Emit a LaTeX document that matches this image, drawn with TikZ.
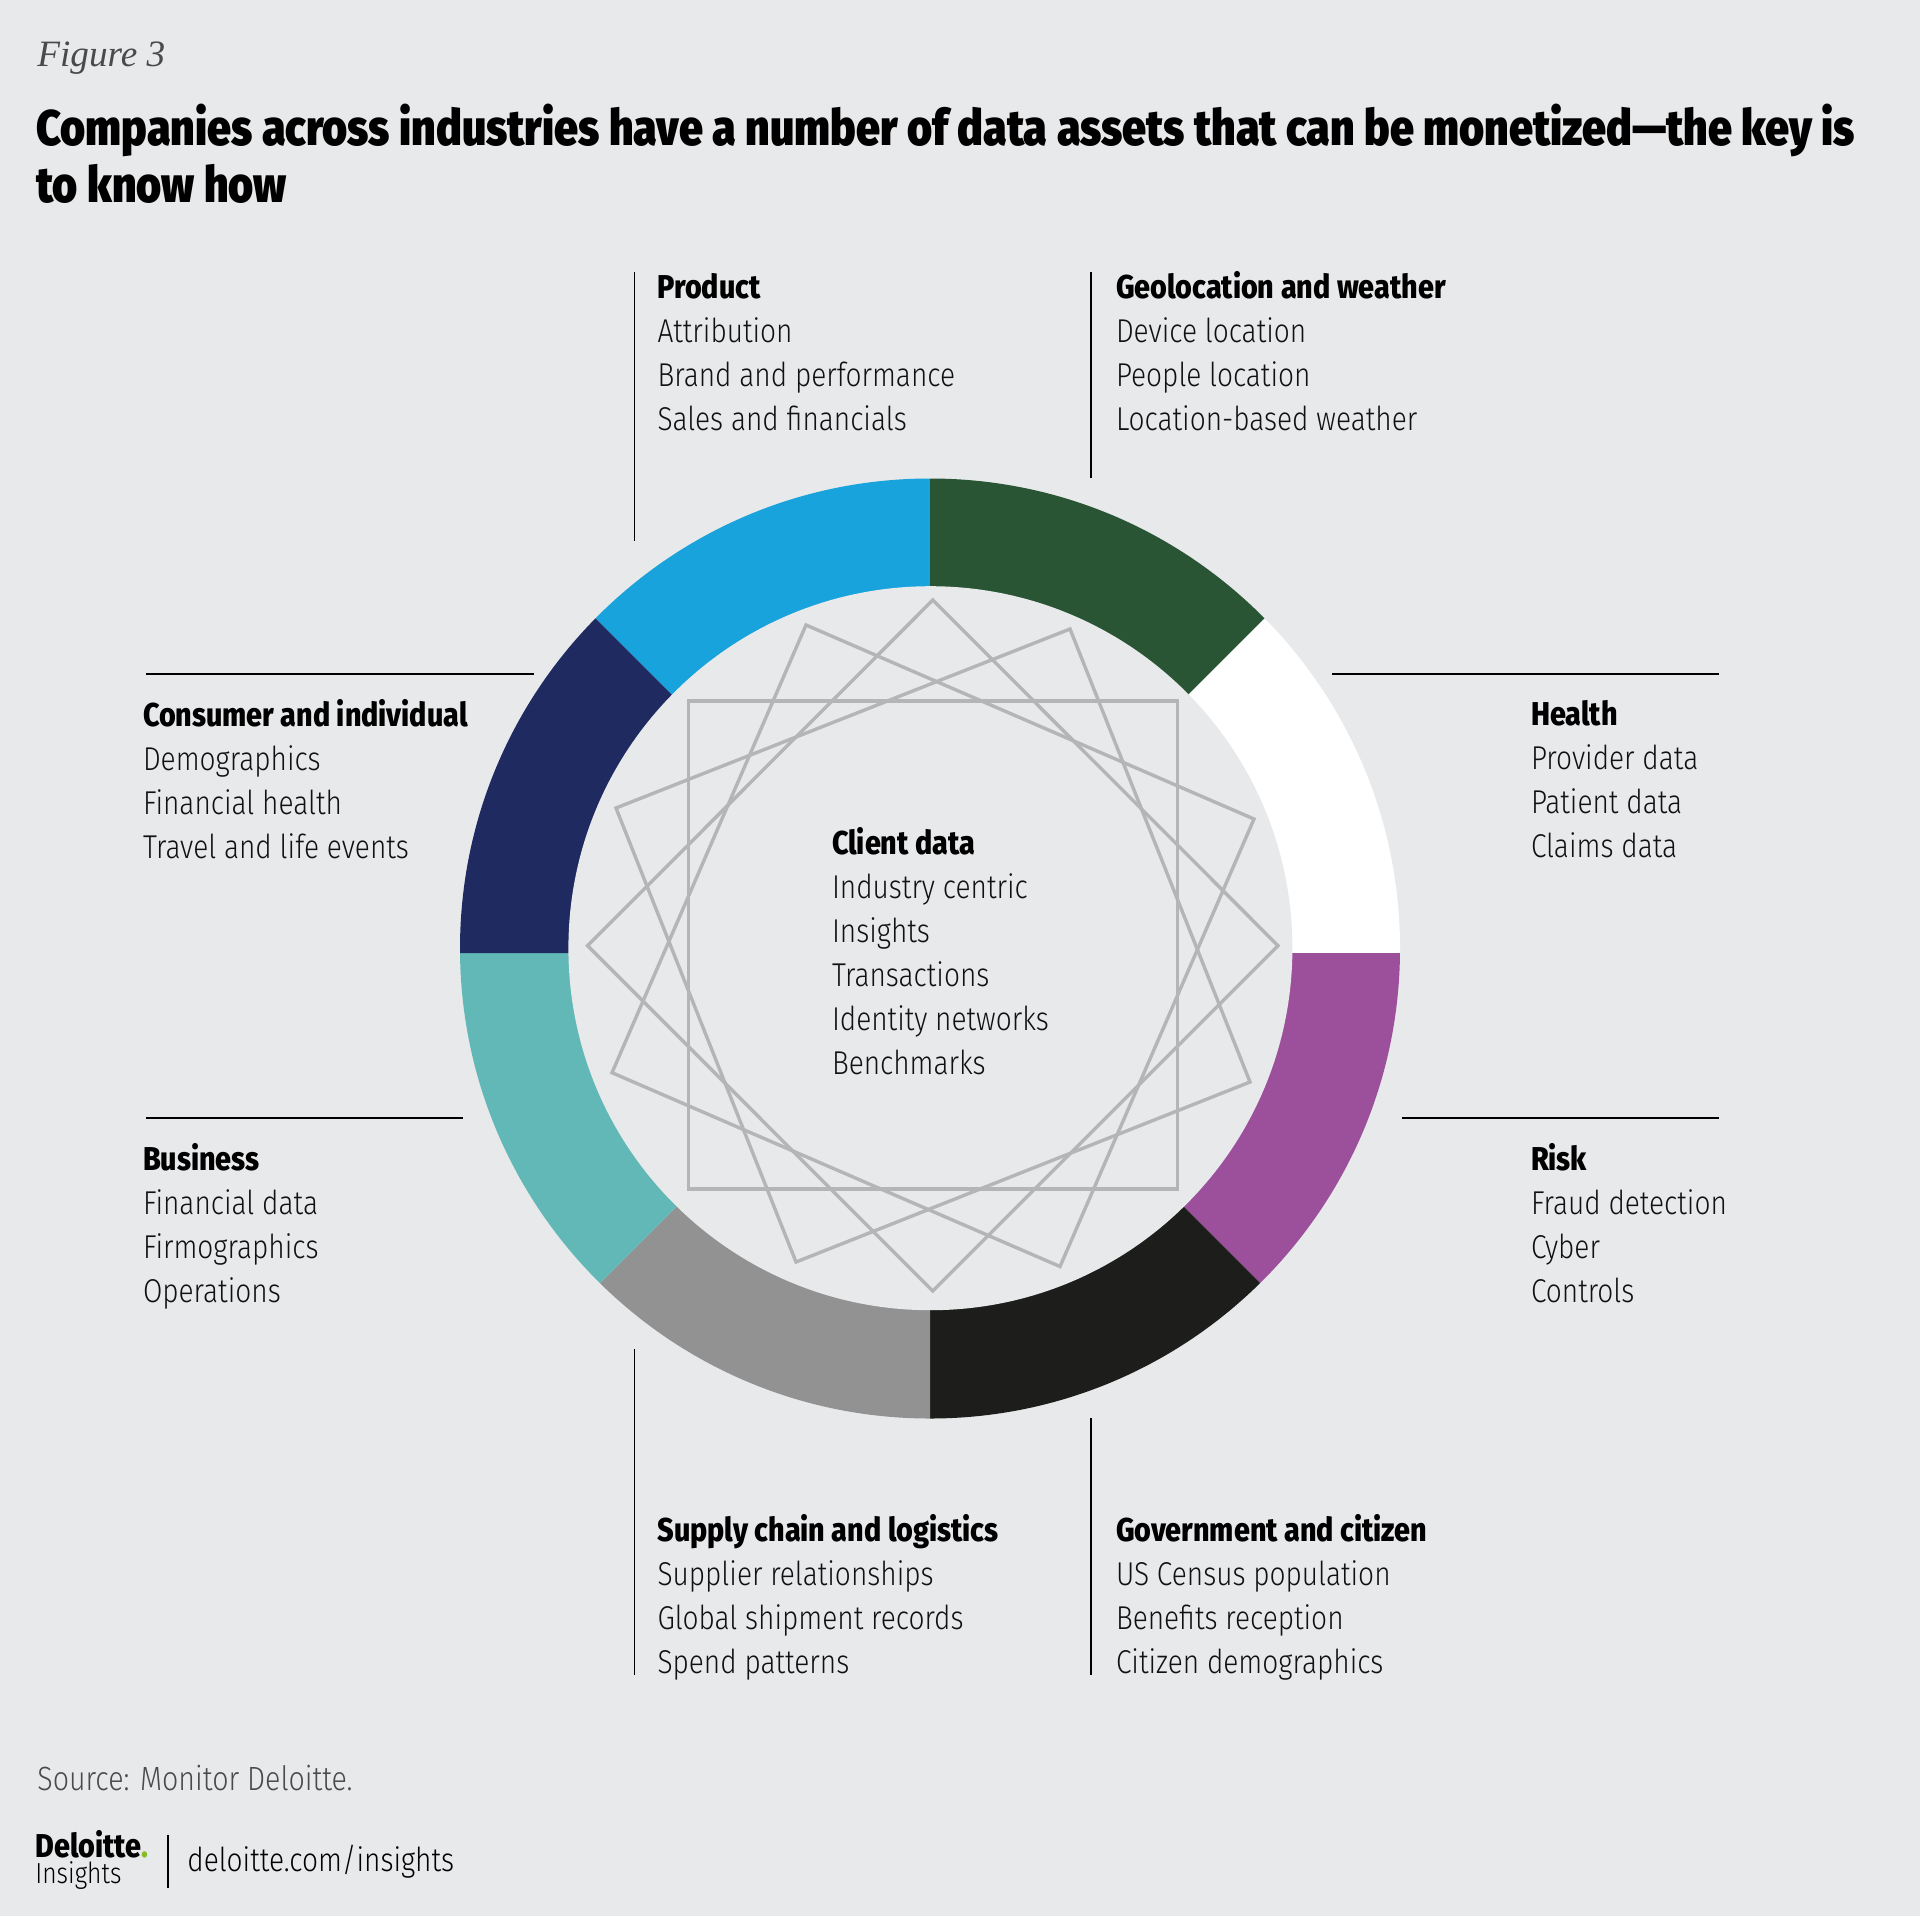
\documentclass[tikz,border=0pt]{standalone}
\usepackage{fontspec}
\setmainfont[FakeStretch=0.85]{Fira Sans Light}
\newfontfamily\headfont[FakeStretch=0.86]{Fira Sans Black}
\newfontfamily\subfont[FakeStretch=0.87]{Fira Sans ExtraBold}
\newfontfamily\fighfont{Liberation Serif}
\newcommand{\hd}[1]{{\subfont\color{black}#1}}
\definecolor{bgc}{HTML}{E8E9EB}
\definecolor{cblue}{HTML}{18A3DC}
\definecolor{cgreen}{HTML}{2A5535}
\definecolor{cpurple}{HTML}{9C4F9A}
\definecolor{cblack}{HTML}{1D1D1B}
\definecolor{cgray}{HTML}{929292}
\definecolor{cteal}{HTML}{62B8B6}
\definecolor{cnavy}{HTML}{1F2A61}
\definecolor{cstar}{HTML}{B4B5B7}
\definecolor{ctext}{HTML}{111111}
\definecolor{csrc}{HTML}{4A4A4C}
\definecolor{cdot}{HTML}{86BC25}
\tikzset{
  x=0.5pt,y=-0.5pt,
  block/.style={anchor=north west,inner sep=0pt,outer sep=0pt,align=left,text=ctext,
    font=\fontsize{16.5}{22.05}\selectfont},
  leader/.style={draw=black,line width=0.8pt},
  starline/.style={draw=cstar,line width=1.7pt,line join=miter},
}
\begin{document}
\begin{tikzpicture}
\useasboundingbox (0,0) rectangle (1920,1916);
\fill[bgc] (0,0) rectangle (1920,1916);
% ring
\begin{scope}
\clip (930,948.5) circle[radius=470];
\fill[cblue]   (930,953) -- (430,453) -- (930,453) -- cycle;
\fill[cgreen]  (930,953) -- (930,453) -- (1430,453) -- cycle;
\fill[white]   (930,953) -- (1430,453) -- (1430,953) -- cycle;
\fill[cpurple] (930,953) -- (1430,953) -- (1430,1453) -- cycle;
\fill[cblack]  (930,953) -- (1430,1453) -- (930,1453) -- cycle;
\fill[cgray]   (930,953) -- (930,1453) -- (430,1453) -- cycle;
\fill[cteal]   (930,953) -- (430,1453) -- (430,953) -- cycle;
\fill[cnavy]   (930,953) -- (430,953) -- (430,453) -- cycle;
\end{scope}
\fill[bgc] (930.4,948.2) circle[radius=362];
% star
\draw[starline] (688.5,701) -- (1177.5,701) -- (1177.5,1189) -- (688.5,1189) -- cycle;
\draw[starline] (932.8,600) -- (1278,945.7) -- (932.8,1291) -- (587.6,945.7) -- cycle;
\draw[starline] (806,625) -- (1254,819) -- (1060,1266.5) -- (612,1072.7) -- cycle;
\draw[starline] (1070,629) -- (1250,1082) -- (796,1262) -- (616,808) -- cycle;
% leaders
\draw[leader] (634.5,272) -- (634.5,541);
\draw[leader] (1091,272) -- (1091,478);
\draw[leader] (146,674) -- (534,674);
\draw[leader] (1332,674) -- (1719,674);
\draw[leader] (146,1118) -- (463,1118);
\draw[leader] (1402,1118) -- (1719,1118);
\draw[leader] (634.5,1349) -- (634.5,1675);
\draw[leader] (1091,1418) -- (1091,1675);
% titles
\node[anchor=base west,inner sep=0pt,text=csrc,font=\fighfont\itshape\fontsize{18.6}{22}\selectfont] (fig) at (37,67) {Figure 3};
\node[anchor=base west,inner sep=0pt,text=black,font=\headfont\fontsize{25}{30}\selectfont] (t1) at (36,145) {Companies across industries have a number of data assets that can be monetized—the key is};
\node[anchor=base west,inner sep=0pt,text=black,font=\headfont\fontsize{25}{30}\selectfont] (t2) at (36,202) {to know how};
% blocks
\node[block] (product) at (657.5,273) {\hd{Product}\\Attribution\\Brand and performance\\Sales and financials};
\node[block] (geo) at (1116,271.5) {\hd{Geolocation and weather}\\Device location\\People location\\Location-based weather};
\node[block] (consumer) at (143,699.5) {\hd{Consumer and individual}\\Demographics\\Financial health\\Travel and life events};
\node[block] (health) at (1531,700) {\hd{Health}\\Provider data\\Patient data\\Claims data};
\node[block] (business) at (143,1143) {\hd{Business}\\Financial data\\Firmographics\\Operations};
\node[block] (risk) at (1531,1143) {\hd{Risk}\\Fraud detection\\Cyber\\Controls};
\node[block] (supply) at (657.5,1514) {\hd{Supply chain and logistics}\\Supplier relationships\\Global shipment records\\Spend patterns};
\node[block] (gov) at (1116,1514) {\hd{Government and citizen}\\US Census population\\Benefits reception\\Citizen demographics};
\node[block] (client) at (832,827) {\hd{Client data}\\Industry centric\\Insights\\Transactions\\Identity networks\\Benchmarks};
% footer
\node[anchor=base west,inner sep=0pt,text=csrc,font=\fontsize{16.8}{20}\selectfont] (src) at (37,1790) {Source: Monitor Deloitte.};
\node[anchor=base west,inner sep=0pt,text=black,font=\subfont\fontsize{16.5}{17}\selectfont] (logo) at (35,1857) {Deloitte\textcolor{cdot}{.}};
\node[anchor=base west,inner sep=0pt,text=black,font=\fontsize{14.5}{15}\selectfont] (ins) at (35,1883) {Insights};
\draw[draw=black,line width=0.8pt] (168,1835) -- (168,1888);
\node[anchor=base west,inner sep=0pt,text=black,font=\fontsize{16.5}{20}\selectfont] (url) at (187,1871) {deloitte.com/insights};
\end{tikzpicture}
\end{document}
